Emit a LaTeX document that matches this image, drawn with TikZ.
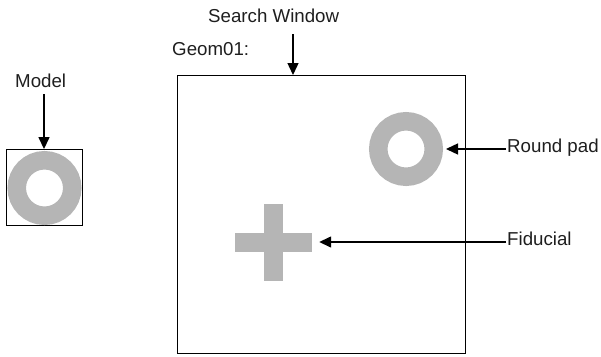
\documentclass[tikz,border=0pt]{standalone}
\usepackage{fontspec}
\setmainfont{Liberation Sans}
\usetikzlibrary{arrows.meta}

\definecolor{padgray}{RGB}{181,181,181}
\definecolor{txtgray}{RGB}{30,30,30}

\begin{document}
\begin{tikzpicture}[x=1pt,y=-1pt,
  lbl/.style={inner sep=1pt,anchor=base west,text=txtgray,font=\fontsize{18.7}{22}\selectfont},
  frame/.style={draw,line width=0.9pt,inner sep=0pt},
  pad/.style={circle,draw=padgray,line width=18.5pt,inner sep=0pt,minimum size=55.5pt},
  arr/.style={line width=1.4pt,-{Triangle[length=12pt,width=11pt]}}]

% Page
\useasboundingbox (0,0) rectangle (601,356);

% Parameters
\def\arm{38.5}
\def\barw{9.5}

% Model
\node[frame,minimum size=76pt] (modelbox) at (44,187.5) {};
\node[pad] (modelpad) at (44.5,188) {};
\node[lbl] (model) at (14,87) {Model};
\draw[arr,shorten <=6pt] (model.south -| modelbox.north) -- (modelbox.north);

% Search window
\node[frame,minimum width=288pt,minimum height=278pt] (winbox) at (321,214) {};
\coordinate (wintop) at (293,75);
\node[lbl] (search) at (207,22) {Search Window};
\node[lbl] (geom) at (171,55) {Geom01:};
\draw[arr,shorten <=11pt] (search.south -| wintop) -- (wintop);

% Round pad
\node[pad] (pad) at (406,149) {};
\node[lbl] (padlbl) at (506,152) {Round pad};
\draw[arr,shorten >=3pt] (pad.east -| padlbl.west) -- (pad.east);

% Fiducial
\node[fill=padgray,inner sep=0pt,minimum width=2*\arm pt,minimum height=2*\barw pt] (fid) at (273.5,242) {};
\fill[padgray] (273.5-\barw,242-\arm) rectangle (273.5+\barw,242+\arm);
\node[lbl] (fidlbl) at (506,245) {Fiducial};
\draw[arr,shorten >=7pt] (fid.east -| fidlbl.west) -- (fid.east);

\end{tikzpicture}
\end{document}
